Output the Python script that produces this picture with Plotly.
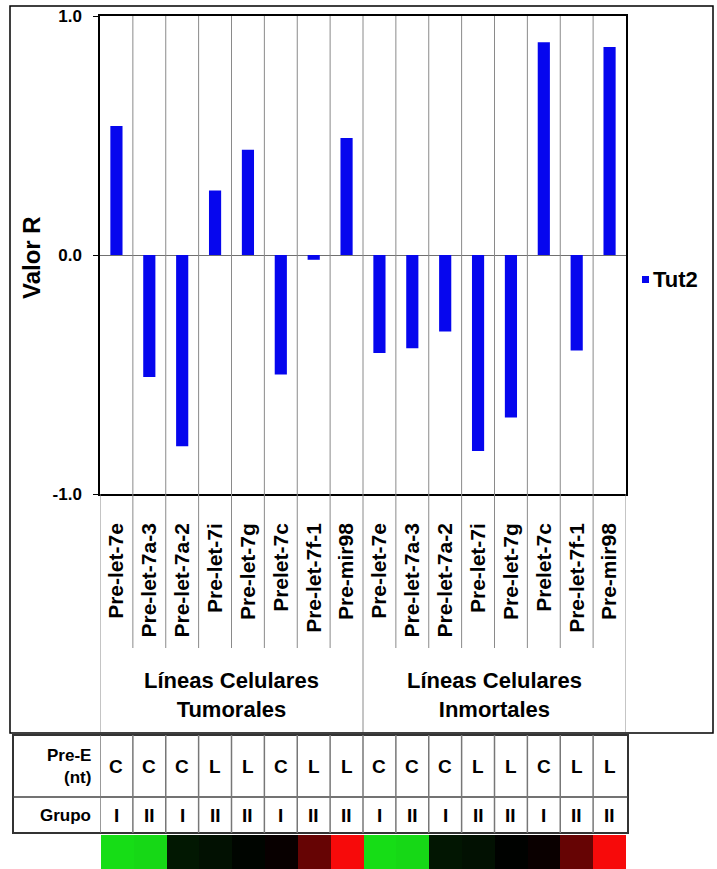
import plotly.graph_objects as go

# ---- data -------------------------------------------------------------
mirnas = ["Pre-let-7e", "Pre-let-7a-3", "Pre-let-7a-2", "Pre-let-7i",
          "Pre-let-7g", "Prelet-7c", "Pre-let-7f-1", "Pre-mir98",
          "Pre-let-7e", "Pre-let-7a-3", "Pre-let-7a-2", "Pre-let-7i",
          "Pre-let-7g", "Prelet-7c", "Pre-let-7f-1", "Pre-mir98"]
valor_r = [0.54, -0.51, -0.80, 0.27, 0.44, -0.50, -0.02, 0.49,
           -0.41, -0.39, -0.32, -0.82, -0.68, 0.89, -0.40, 0.87]
grupos_celulares = ["Líneas Celulares<br>Tumorales", "Líneas Celulares<br>Inmortales"]
pre_e = ["C", "C", "C", "L", "L", "C", "L", "L",
         "C", "C", "C", "L", "L", "C", "L", "L"]
grupo = ["I", "II", "I", "II", "II", "I", "II", "II",
         "I", "II", "I", "II", "II", "I", "II", "II"]
expresion = [-0.92, -0.90, -0.10, -0.07, -0.02, 0.03, 0.40, 0.97,
             -0.92, -0.90, -0.09, -0.07, -0.01, 0.04, 0.40, 0.97]
serie = "Tut2"
y_ticks = [-1.0, 0.0, 1.0]
y_tick_text = ["-1.0", "0.0", "1.0"]

# ---- page geometry (pixels) --------------------------------------------
W, H = 717, 869
def px(x):
    return x / W
def py(y):
    return 1 - y / H

FONT = "Liberation Sans, Arial, sans-serif"
BLUE = "#0606EE"
n = len(mirnas)
idx = list(range(n))

fig = go.Figure()

fig.add_trace(go.Bar(
    x=idx, y=valor_r, width=0.37, name=serie,
    marker=dict(color=BLUE, line=dict(width=0)),
    showlegend=False, xaxis="x", yaxis="y",
))

# colour strip below the table
fig.add_trace(go.Heatmap(
    x=idx, y=[0], z=[expresion], xaxis="x2", yaxis="y2",
    zmin=-1, zmax=1, showscale=False, hoverinfo="skip",
    colorscale=[[0.0, "#18F018"], [0.5, "#000000"], [1.0, "#FF0A0A"]],
))

fig.update_layout(
    width=W, height=H,
    margin=dict(l=0, r=0, t=0, b=0),
    paper_bgcolor="white", plot_bgcolor="white",
    font=dict(family=FONT, color="black"),
    showlegend=False,
    xaxis=dict(
        domain=[px(100), px(626)], range=[-0.5, n - 0.5],
        tickvals=idx, ticktext=mirnas, tickangle=-90,
        tickfont=dict(family=FONT, size=21, weight="bold"),
        ticks="", showgrid=False, zeroline=False,
        showline=True, linecolor="black", linewidth=1.5, mirror=True,
        ticklabelstandoff=19, automargin=False, fixedrange=True,
    ),
    yaxis=dict(
        domain=[py(494), py(16)], range=[-1, 1],
        tickvals=y_ticks, ticktext=y_tick_text,
        tickfont=dict(family=FONT, size=17, weight="bold"),
        ticks="outside", ticklen=5, tickcolor="black",
        showgrid=False, zeroline=True, zerolinecolor="#707070", zerolinewidth=1,
        showline=True, linecolor="black", linewidth=1.5, mirror=True,
        ticklabelstandoff=8, automargin=False, fixedrange=True,
    ),
    xaxis2=dict(
        domain=[px(101), px(626)], range=[-0.5, n - 0.5],
        anchor="y2", visible=False, automargin=False, fixedrange=True,
    ),
    yaxis2=dict(
        domain=[0, py(835)], anchor="x2", visible=False,
        automargin=False, fixedrange=True,
    ),
)

shapes = []
# outer frame around chart and labels
shapes.append(dict(type="rect", xref="paper", yref="paper",
                   x0=px(10), x1=px(713), y0=py(733), y1=py(6),
                   line=dict(color="black", width=1.5)))
# category separators running through the label area
for i in range(n - 1):
    b = i + 0.5
    bottom = 732 if b == 7.5 else 648
    shapes.append(dict(type="line", xref="x", yref="paper",
                       x0=b, x1=b, y0=py(bottom), y1=py(16),
                       line=dict(color="#8a8a8a", width=1)))
for b in (-0.5, n - 0.5):
    shapes.append(dict(type="line", xref="x", yref="paper",
                       x0=b, x1=b, y0=py(732), y1=py(494),
                       line=dict(color="#8a8a8a", width=1)))

# table: frame, row divider, column dividers
shapes.append(dict(type="rect", xref="paper", yref="paper",
                   x0=px(13), x1=px(628), y0=py(833), y1=py(735),
                   line=dict(color="#333333", width=2)))
shapes.append(dict(type="line", xref="paper", yref="paper",
                   x0=px(13), x1=px(628), y0=py(797), y1=py(797),
                   line=dict(color="#444444", width=1.5)))
for i in range(-1, n - 1):
    b = i + 0.5
    shapes.append(dict(type="line", xref="x", yref="paper",
                       x0=b, x1=b, y0=py(833), y1=py(735),
                       line=dict(color="#777777", width=1.5)))

# legend swatch
shapes.append(dict(type="rect", xref="paper", yref="paper",
                   x0=px(642), x1=px(649), y0=py(283), y1=py(276),
                   fillcolor=BLUE, line=dict(width=0)))

annotations = []
annotations.append(dict(text=serie, xref="paper", yref="paper",
                        x=px(651), y=py(279), xanchor="left", yanchor="middle",
                        showarrow=False,
                        font=dict(family=FONT, size=22, weight="bold")))
# y axis title
annotations.append(dict(text="Valor R", xref="paper", yref="paper",
                        x=px(32), y=py(258), xanchor="center", yanchor="middle",
                        textangle=-90, showarrow=False,
                        font=dict(family=FONT, size=24, weight="bold")))
# group captions
for g, name in enumerate(grupos_celulares):
    annotations.append(dict(text=name, xref="x", yref="paper",
                            x=g * 8 + 3.5, y=py(695),
                            xanchor="center", yanchor="middle", showarrow=False,
                            font=dict(family=FONT, size=22, weight="bold")))
# table header
annotations.append(dict(text="Pre-E<br>(nt)", xref="paper", yref="paper",
                        x=px(93), y=py(766), xanchor="right", yanchor="middle",
                        align="right", showarrow=False,
                        font=dict(family=FONT, size=17, weight="bold")))
annotations.append(dict(text="Grupo", xref="paper", yref="paper",
                        x=px(93), y=py(815), xanchor="right", yanchor="middle",
                        showarrow=False,
                        font=dict(family=FONT, size=17, weight="bold")))
# table cells
for i in idx:
    annotations.append(dict(text=pre_e[i], xref="x", yref="paper",
                            x=i, y=py(766), xanchor="center", yanchor="middle",
                            showarrow=False,
                            font=dict(family=FONT, size=19, weight="bold")))
    annotations.append(dict(text=grupo[i], xref="x", yref="paper",
                            x=i, y=py(815), xanchor="center", yanchor="middle",
                            showarrow=False,
                            font=dict(family=FONT, size=19, weight="bold")))

fig.update_layout(shapes=shapes, annotations=annotations)

fig.write_html("out.html")
